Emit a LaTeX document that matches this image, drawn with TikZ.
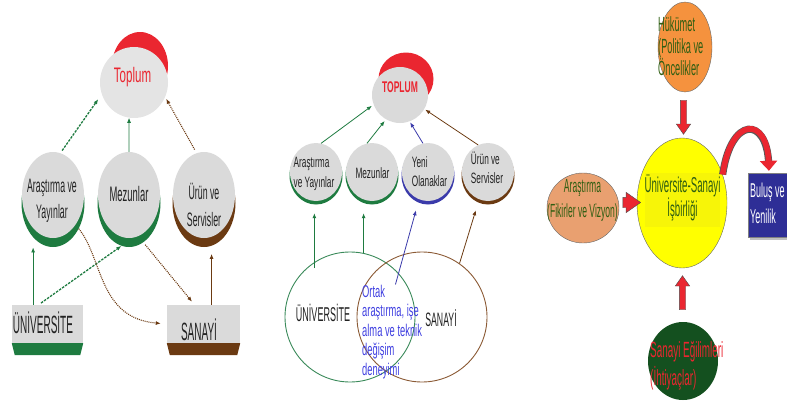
\documentclass[tikz,border=0pt]{standalone}
\usepackage{fontspec}
\setmainfont{Liberation Sans}
% narrow (condensed) faces for the labels
\newfontfamily\nA[FakeStretch=0.55]{Liberation Sans}
\newfontfamily\nB[FakeStretch=0.45]{Liberation Sans}
\newfontfamily\nC[FakeStretch=0.40]{Liberation Sans}
\usetikzlibrary{arrows.meta,shapes.geometric,shapes.arrows,calc}

\definecolor{cred}{HTML}{EA2630}
\definecolor{cgreen}{HTML}{1E7B40}
\definecolor{cbrown}{HTML}{6B3A12}
\definecolor{cblue}{HTML}{3A3AAA}
\definecolor{cgrey}{HTML}{DADADA}
\definecolor{cgreyl}{HTML}{E4E4E4}
\definecolor{corange}{HTML}{F5923E}
\definecolor{csalmon}{HTML}{E9A070}
\definecolor{cyel}{HTML}{FFFF00}
\definecolor{cyel2}{HTML}{F7F508}
\definecolor{cdkgreen}{HTML}{14501F}
\definecolor{cnavy}{HTML}{2E2E96}
\definecolor{ctgreen}{HTML}{2F5E12}
\definecolor{cortak}{HTML}{4040E0}
\definecolor{cvgreen}{HTML}{3A8A5A}
\definecolor{cvbrown}{HTML}{8B5A35}
\definecolor{ctext}{HTML}{222222}

\tikzset{
  disc/.style={ellipse, inner sep=0pt, draw=none},
  lbl/.style={inner sep=0pt, align=center, text=ctext},
  tip/.style={-{Latex[length=5pt,width=4pt]}},
  gsolid/.style={tip, draw=cgreen, line width=0.8pt},
  gdash/.style={tip, draw=cgreen, line width=1.3pt, dash pattern=on 2.5pt off 1.2pt},
  bdot/.style={tip, draw=cbrown, line width=1.1pt, dash pattern=on 1pt off 1pt},
  bsolid/.style={tip, draw=cbrown, line width=0.8pt},
  blsolid/.style={tip, draw=cblue, line width=0.8pt},
  blockarrow/.style={single arrow, fill=cred, draw=black!70, line width=0.4pt,
    inner sep=3pt, single arrow head extend=4pt, single arrow tip angle=70},
}

\begin{document}
\begin{tikzpicture}[x=1pt,y=-1pt]
\useasboundingbox (0,0) rectangle (787,402);

% ---------------- left panel ----------------
\node[disc, fill=cred, minimum width=56pt, minimum height=68pt] (topLr) at (140,66) {};
\node[disc, fill=cgreyl, minimum width=68pt, minimum height=71pt] (topL) at (134,82.5) {};
\node[lbl, anchor=base, text=cred, font=\nA\fontsize{21}{24}\selectfont] (topLt) at (132.5,82.7) {Toplum};

\node[disc, fill=cgreen, minimum width=63pt, minimum height=88pt] (araLs) at (53,203) {};
\node[disc, fill=cgrey, minimum width=62pt, minimum height=86pt] (araL) at (53,195) {};
\node[disc, fill=cgreen, minimum width=63pt, minimum height=88pt] (mezLs) at (129,203) {};
\node[disc, fill=cgrey, minimum width=62pt, minimum height=86pt] (mezL) at (129,195) {};
\node[disc, fill=cbrown, minimum width=63pt, minimum height=88pt] (urnLs) at (204,203) {};
\node[disc, fill=cgrey, minimum width=62pt, minimum height=86pt] (urnL) at (204,195) {};

\node[lbl, font=\nB\fontsize{19.5}{25.7}\selectfont] (araLt) at (52,201) {Araştırma ve\\Yayınlar};
\node[lbl, anchor=base, font=\nB\fontsize{21}{24}\selectfont] (mezLt) at (129,201) {Mezunlar};
\node[lbl, font=\nB\fontsize{19.5}{26.5}\selectfont] (urnLt) at (204,205) {Ürün ve\\Servisler};

\node[fill=cgrey, inner sep=0pt, minimum width=71pt, minimum height=38pt] (uniL) at (47.5,324) {};
\fill[cgreen] (uniL.south west) -- (uniL.south east) -- ++(-3,12) -- ($(uniL.south west)+(3,12)$) -- cycle;
\node[lbl, anchor=base, font=\nC\fontsize{25}{28}\selectfont] (uniLt) at (43,333.5) {ÜNİVERSİTE};

\node[fill=cgrey, inner sep=0pt, minimum width=73pt, minimum height=38pt] (sanL) at (203.5,324) {};
\fill[cbrown] (sanL.south west) -- (sanL.south east) -- ++(-3,12) -- ($(sanL.south west)+(3,12)$) -- cycle;
\node[lbl, anchor=base, font=\nC\fontsize{25}{28}\selectfont] (sanLt) at (199,340.5) {SANAYİ};

% connectors of the left panel
\draw[gdash, shorten <=3pt, shorten >=6pt] (araL.80) -- (topL.200);
\draw[gsolid] (mezL.north) -- (topL.262);
\draw[bdot, shorten <=4pt, shorten >=2pt] (urnL.100) -- (topL.335);
\draw[gsolid, shorten >=10pt] (araLs.240 |- uniL.north) -- (araLs.240);
\draw[gdash, shorten <=3pt] (uniL.115) -- (mezLs.260);
\draw[bdot, shorten >=6pt] (araLs.-45) .. controls (103,258) and (98,318) .. (sanL.west);
\draw[bdot, shorten <=3pt, shorten >=4pt] (mezLs.-70) -- (sanL.115);
\draw[bsolid, shorten >=8pt] (urnLs.280 |- sanL.north) -- (urnLs.280);

% ---------------- middle panel ----------------
\node[disc, fill=cred, minimum width=55pt, minimum height=53pt] (topMr) at (406,79) {};
\node[disc, fill=cgrey, minimum width=56pt, minimum height=56pt] (topM) at (400,95) {};
\node[lbl, anchor=base, text=cred, font=\nA\bfseries\fontsize{15.5}{18}\selectfont] (topMt) at (400,92) {TOPLUM};

\foreach \nm/\xx/\cc in {araM/316/cgreen, mezM/372/cgreen, yenM/428/cblue, urnM/488/cbrown}{
  \node[disc, fill=\cc, minimum width=53pt, minimum height=58pt] (\nm s) at (\xx,175.5) {};
  \node[disc, fill=cgrey, minimum width=52pt, minimum height=58pt] (\nm) at (\xx,172) {};
}
\node[lbl, align=left, font=\nA\fontsize{15}{20}\selectfont] (araMt) at (314,174) {Araştırma\\ve Yayınlar};
\node[lbl, anchor=base, font=\nA\fontsize{15}{18}\selectfont] (mezMt) at (372.5,178.3) {Mezunlar};
\node[lbl, align=left, font=\nA\fontsize{15}{19}\selectfont] (yenMt) at (429.5,172) {Yeni\\Olanaklar};
\node[lbl, align=left, font=\nA\fontsize{15}{18.5}\selectfont] (urnMt) at (487,168) {Ürün ve\\Servisler};

\draw[gsolid, shorten >=2pt] (araM.80) -- (topM.200);
\draw[gsolid, shorten >=2pt] (mezM.100) -- (topM.240);
\draw[blsolid, shorten >=1pt] (yenM.100) -- (topM.290);
\draw[bsolid, shorten >=1pt] (urnM.110) -- (topM.330);

% overlapping circles
\node[circle, draw=cvgreen, line width=0.9pt, inner sep=0pt, minimum size=130pt] (uniV) at (350,317) {};
\node[circle, draw=cvbrown, line width=0.9pt, inner sep=0pt, minimum size=130pt] (sanV) at (422,317) {};
\node[lbl, anchor=base, font=\nB\fontsize{20}{24}\selectfont] (uniVt) at (323,321.7) {ÜNİVERSİTE};
\node[lbl, anchor=base, font=\nB\fontsize{19.4}{24}\selectfont] (sanVt) at (441,326) {SANAYİ};
\node[lbl, align=left, anchor=north west, text=cortak, font=\nA\fontsize{17}{19.5}\selectfont] (ortak) at (362,284.5)
  {Ortak\\araştırma, işe\\alma ve teknik\\değişim\\deneyimi};

\draw[gsolid, shorten <=-6pt, shorten >=12pt] (uniV.123) -- (uniV.123 |- araM.south);
\draw[gsolid, shorten >=12pt] (uniV.78) -- (uniV.78 |- mezM.south);
\draw[blsolid, shorten <=-2pt, shorten >=8pt] ($(ortak.north west)+(34,-2)$) -- (yenMs.250);
\draw[bsolid, shorten >=8pt] (sanV.55) -- (urnMs.250);

% ---------------- right panel ----------------
\node[disc, fill=corange, draw=black!60, line width=0.4pt, minimum width=54pt, minimum height=90pt] (hukR) at (685,47) {};
\node[lbl, align=left, anchor=north west, text=ctgreen, font=\nB\fontsize{20.5}{22}\selectfont] (hukRt) at (658,16.5)
  {Hükümet\\(Politika ve\\Öncelikler};

\node[disc, fill=cyel, draw=black!60, line width=0.4pt, minimum width=90pt, minimum height=130pt] (usR) at (682,203) {};
\fill[cyel2] (645,173) rectangle (720,227);
\node[lbl, text=ctgreen, font=\nB\fontsize{21.5}{24}\selectfont] (usRt) at (682.5,198) {Üniversite-Sanayi\\İşbirliği};

\node[disc, fill=csalmon, draw=black!60, line width=0.4pt, minimum width=72pt, minimum height=70pt] (araR) at (583,208) {};
\node[lbl, text=ctgreen, font=\nB\fontsize{19}{25}\selectfont] (araRt) at (582.5,200.5) {Araştırma\\(Fikirler ve Vizyon)};

\node[disc, fill=cdkgreen, minimum width=70pt, minimum height=78pt] (sanR) at (683,361) {};
\node[lbl, align=left, anchor=north west, text=cred, font=\nB\fontsize{22}{28}\selectfont] (sanRt) at (650,341)
  {Sanayi Eğilimleri\\(İhtiyaçlar)};

\fill[black!25] (750,176) rectangle (792,240);
\node[fill=cnavy, draw=black!50, line width=0.4pt, inner sep=0pt, minimum width=42pt, minimum height=64pt] (bulR) at (769,205) {};
\node[lbl, align=left, anchor=north west, text=white, font=\nB\fontsize{20}{26}\selectfont] (bulRt) at (750,182.4)
  {Buluş ve\\Yenilik};

% block arrows towards the centre
\node[blockarrow, rotate=-90, minimum height=34pt] (arrH) at ($(hukR.south)!0.5!(usR.north)$) {};
\node[blockarrow, rotate=90, minimum height=34pt] (arrS) at ($(usR.south)!0.5!(sanR.north)$) {};
\node[blockarrow, inner sep=5pt, single arrow head extend=5pt, minimum height=16pt] (arrA) at ($(araR.east)!0.5!(usR.west)+(0,-3)$) {};

% curved arrow to the outcome box
\draw[line width=7.2pt, draw=black!65, shorten >=9pt] (usR.35) .. controls (731,116) and (767,116) .. (bulR.north);
\draw[line width=5.6pt, draw=cred, shorten >=2pt, -{Triangle[length=10pt,width=17pt]}] (usR.35) .. controls (731,116) and (767,116) .. (bulR.north);

\end{tikzpicture}
\end{document}
